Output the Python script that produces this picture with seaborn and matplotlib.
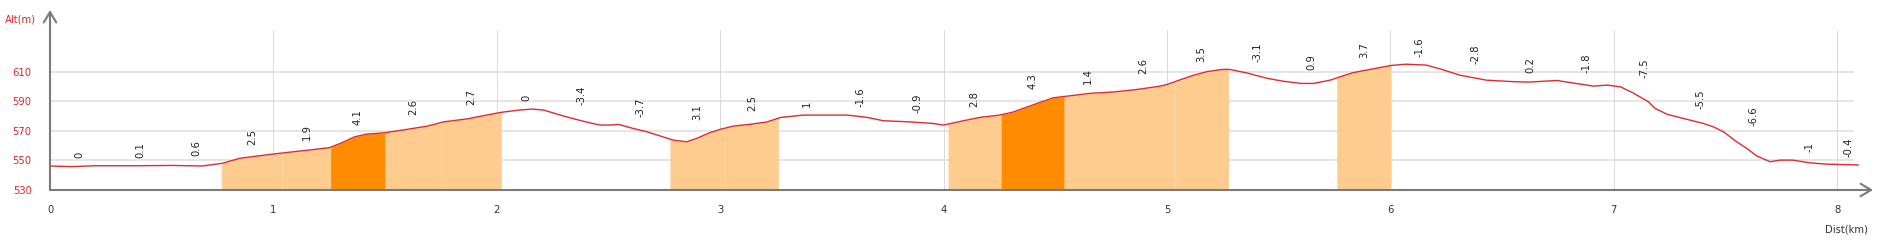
import numpy as np
import matplotlib
matplotlib.use("Agg")
import matplotlib.pyplot as plt
import seaborn as sns

# ---------------- data ----------------
dist_km = [0.00, 0.10, 0.20, 0.40, 0.55, 0.68, 0.77, 0.85, 0.93, 1.00, 1.04, 1.16,
           1.25, 1.30, 1.365, 1.42, 1.50, 1.60, 1.69, 1.76, 1.865, 1.95, 2.02, 2.10,
           2.16, 2.21, 2.28, 2.34, 2.40, 2.46, 2.51, 2.545, 2.61, 2.67, 2.79, 2.85,
           2.895, 2.95, 3.00, 3.06, 3.14, 3.21, 3.27, 3.37, 3.57, 3.66, 3.73, 3.85,
           3.95, 4.00, 4.08, 4.16, 4.25, 4.31, 4.40, 4.49, 4.53, 4.655, 4.76, 4.87,
           4.97, 5.00, 5.06, 5.12, 5.18, 5.25, 5.28, 5.36, 5.45, 5.52, 5.60, 5.655,
           5.73, 5.775, 5.83, 5.92, 6.00, 6.07, 6.16, 6.23, 6.31, 6.43, 6.55, 6.62,
           6.745, 6.83, 6.91, 6.97, 7.03, 7.09, 7.155, 7.185, 7.24, 7.31, 7.40, 7.445,
           7.49, 7.55, 7.595, 7.64, 7.70, 7.745, 7.80, 7.875, 7.95, 8.095]
alt_m = [546.2, 545.8, 546.4, 546.4, 546.6, 546.2, 548.0, 551.4, 553.0, 554.3, 555.0, 557.0,
         558.6, 561.5, 566.0, 567.8, 568.7, 571.0, 573.2, 576.0, 578.0, 580.5, 582.5, 584.0,
         584.7, 584.0, 580.8, 578.3, 576.0, 573.9, 573.9, 574.3, 571.6, 569.4, 563.7, 562.6,
         564.9, 568.5, 571.0, 573.2, 574.5, 576.0, 579.0, 580.6, 580.6, 579.0, 576.8, 576.0,
         575.0, 573.9, 576.5, 579.0, 580.6, 582.6, 587.5, 592.3, 593.0, 595.3, 596.2, 598.0,
         600.2, 601.3, 604.5, 607.6, 610.0, 611.5, 611.5, 609.0, 605.4, 603.5, 602.0, 602.0,
         604.2, 606.5, 609.2, 611.8, 614.1, 615.0, 614.4, 611.5, 607.6, 604.2, 603.2, 602.9,
         604.0, 602.0, 600.2, 600.9, 599.7, 595.3, 589.6, 585.1, 581.1, 578.4, 575.0, 572.7,
         569.4, 562.6, 558.1, 553.0, 549.1, 550.2, 550.2, 548.4, 547.5, 546.9]

seg_edges_km = [0.0, 0.26, 0.546, 0.767, 1.04, 1.256, 1.50, 1.752, 2.02, 2.248, 2.512,
                2.775, 3.023, 3.26, 3.514, 3.746, 4.02, 4.257, 4.54, 4.756, 5.032, 5.275,
                5.533, 5.76, 6.003, 6.261, 6.503, 6.753, 6.999, 7.273, 7.499, 7.749, 8.007,
                8.095]
seg_grades = [0, 0.1, 0.6, 2.5, 1.9, 4.1, 2.6, 2.7, 0, -3.4, -3.7, 3.1, 2.5, 1, -1.6,
              -0.9, 2.8, 4.3, 1.4, 2.6, 3.5, -3.1, 0.9, 3.7, -1.6, -2.8, 0.2, -1.8, -7.5,
              -5.5, -6.6, -1, -0.4]

alt_ticks = [530, 550, 570, 590, 610]
dist_ticks = [0, 1, 2, 3, 4, 5, 6, 7, 8]

# ---------------- style ----------------
sns.set_style("white")
plt.rcParams['font.family'] = ['DejaVu Sans']

RED = "#E0262B"
LINE_RED = "#E02A32"
LIGHT = "#FFCC8F"
DARK = "#FF8C00"
AXIS = "#7A7A7A"


def seg_colour(g):
    if g >= 4:
        return DARK
    if g > 1:
        return LIGHT
    return None


W, H = 1879, 240
fig = plt.figure(figsize=(W / 100, H / 100), dpi=100)
ax = fig.add_axes([50 / W, 50 / H, (1873 - 50) / W, 180 / H])
px_per_km = 223.4
px_per_m = 29.6 / 20
ax.set_xlim(0, (1873 - 50) / px_per_km)
ax.set_ylim(alt_ticks[0], alt_ticks[0] + 180 / px_per_m)

# grid lines (behind everything)
ax.hlines(alt_ticks[1:], 0, dist_km[-1] - 0.02, colors="#E4E4E4", lw=1.3, zorder=0)
ax.vlines(dist_ticks[1:], alt_ticks[0], 638, colors="#DCDCDC", lw=0.8, zorder=0)

# gradient segments
dist_arr = np.array(dist_km)
alt_arr = np.array(alt_m)
for i, g in enumerate(seg_grades):
    a, b = seg_edges_km[i], seg_edges_km[i + 1]
    inner = [d for d in dist_km if a < d < b]
    xs = np.array([a] + inner + [b])
    ys = np.interp(xs, dist_arr, alt_arr)
    c = seg_colour(g)
    if c is not None:
        ax.fill_between(xs, alt_ticks[0], ys, color=c, lw=0, zorder=1)
    ax.annotate(f"{g:g}", ((a + b) / 2, ys.max()), xytext=(0, 5.5),
                textcoords="offset points", rotation=90, ha="center", va="bottom",
                fontsize=7.2, color="#222222", zorder=4)

# elevation profile
sns.lineplot(x=dist_km, y=alt_m, ax=ax, color=LINE_RED, lw=1.0, sort=False,
             estimator=None, zorder=3)

# ticks
ax.set_xticks(dist_ticks)
ax.set_yticks(alt_ticks)
ax.set_xticklabels([str(t) for t in dist_ticks])
ax.set_yticklabels([str(t) for t in alt_ticks])
ax.tick_params(axis="x", direction="out", length=4, width=1.0, color="#444444",
               labelcolor="#333333", labelsize=7.2, pad=6.5)
ax.tick_params(axis="y", direction="inout", length=7.2, width=1.0, colors=RED,
               labelsize=7.2, pad=9.6)
ax.set_xlabel("")
ax.set_ylabel("")

for s in ax.spines.values():
    s.set_visible(False)

arrow = dict(arrowstyle="->,head_length=0.75,head_width=0.45", color=AXIS, lw=1.5,
             shrinkA=0, shrinkB=0, mutation_scale=10)
ax.annotate("", xy=(1, 0), xytext=(0, 0), xycoords="axes fraction", arrowprops=arrow,
            annotation_clip=False, zorder=5)
ax.annotate("", xy=(0, 1), xytext=(0, 0), xycoords="axes fraction", arrowprops=arrow,
            annotation_clip=False, zorder=5)

fig.text(5 / W, 1 - 20 / H, "Alt(m)", ha="left", va="center", color=RED, fontsize=7.2)
fig.text(1868 / W, 1 - 230 / H, "Dist(km)", ha="right", va="center", color="#333333",
         fontsize=7.2)

fig.savefig("out.png", dpi=100)
